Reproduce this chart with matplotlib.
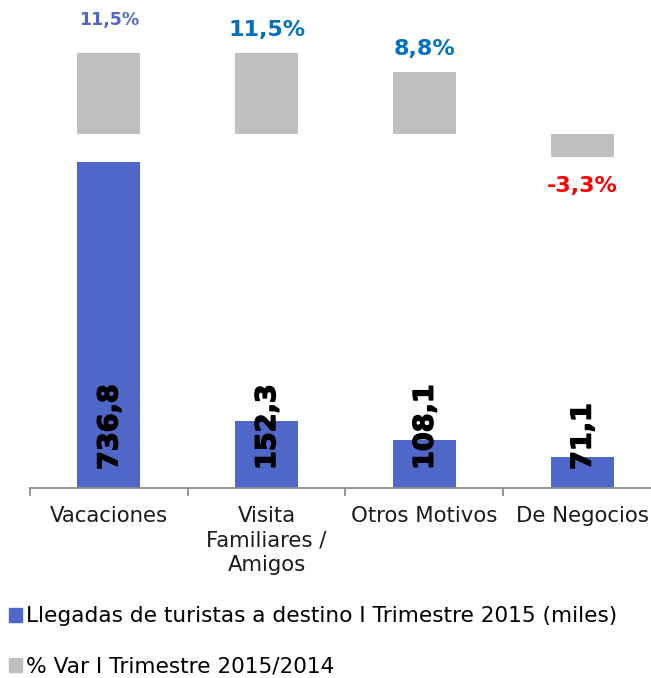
import matplotlib
matplotlib.use("Agg")
import matplotlib.pyplot as plt
import matplotlib.patheffects as pe
from matplotlib.patches import Patch

# data
categorias = ["Vacaciones", "Visita\nFamiliares /\nAmigos", "Otros Motivos", "De Negocios"]
llegadas = [736.8, 152.3, 108.1, 71.1]          # miles
variacion = [11.5, 11.5, 8.8, -3.3]             # % var 2015/2014
serie_llegadas = "Llegadas de turistas a destino I Trimestre 2015 (miles)"
serie_var = "% Var I Trimestre 2015/2014"

AZUL = "#4F67C9"
GRIS = "#BFBFBF"


def fmt(v, pct=False):
    s = f"{v:.1f}".replace(".", ",")
    return s + "%" if pct else s


fig = plt.figure(figsize=(6.51, 6.78), dpi=100)
W, H = 651, 678
ax = fig.add_axes([30 / W, (H - 488) / H, 631 / W, 488 / H])
ax2 = ax.twinx()

x = list(range(len(categorias)))
ax.bar(x, llegadas, width=0.4, color=AZUL, zorder=2)
ax2.bar(x, variacion, width=0.4, color=GRIS, zorder=2)

ax.set_xlim(-0.5, len(categorias) - 0.5)
ax.set_ylim(0, 488 / 0.4425)
ax2.set_ylim(-354 / 7.043, (488 - 354) / 7.043)

# value labels inside the base of the blue bars (extra stroke for a heavier look)
for xi, v in zip(x, llegadas):
    ax.annotate(fmt(v), (xi, 0), xytext=(1, 13), textcoords="offset points",
                rotation=90, ha="center", va="bottom", fontsize=19.5,
                fontweight="bold", color="black", annotation_clip=False,
                path_effects=[pe.withStroke(linewidth=1.0, foreground="black")])

# percentage labels on the gray bars
colores_pct = ["#4F67C9", "#0070C0", "#0070C0", "#FF0000"]
for i, (xi, v) in enumerate(zip(x, variacion)):
    if v >= 0:
        off = 23.5 if i == 0 else 16.5
        size = 12.5 if i == 0 else 16
    else:
        off = -21
        size = 16
    ax2.annotate(fmt(v, True), (xi, v), xytext=(0, off), textcoords="offset points",
                 ha="center", va="center", fontsize=size, fontweight="bold",
                 color=colores_pct[i], annotation_clip=False)

# axes styling
for a in (ax, ax2):
    for s in ("top", "right", "left"):
        a.spines[s].set_visible(False)
    a.set_yticks([])
ax2.spines["bottom"].set_visible(False)
ax.spines["bottom"].set_color("#8C8C8C")
ax.spines["bottom"].set_linewidth(1.3)

ax.set_xticks(x)
ax.set_xticklabels(categorias, fontsize=15.3, color="#1A1A1A", linespacing=1.28)
ax.tick_params(axis="x", which="major", length=0, pad=13)
ax.set_xticks([i - 0.5 for i in range(len(categorias) + 1)], minor=True)
ax.tick_params(axis="x", which="minor", length=6, width=1.3, color="#8C8C8C")

handles = [Patch(color=AZUL), Patch(color=GRIS)]
fig.legend(handles, [serie_llegadas, serie_var], loc="upper left",
           bbox_to_anchor=(0.004, (H - 600) / H), frameon=False, fontsize=15.6,
           handlelength=0.6, handleheight=0.6, handletextpad=0.2,
           labelspacing=1.4, borderaxespad=0, borderpad=0.3)

fig.savefig("out.png", dpi=100)
